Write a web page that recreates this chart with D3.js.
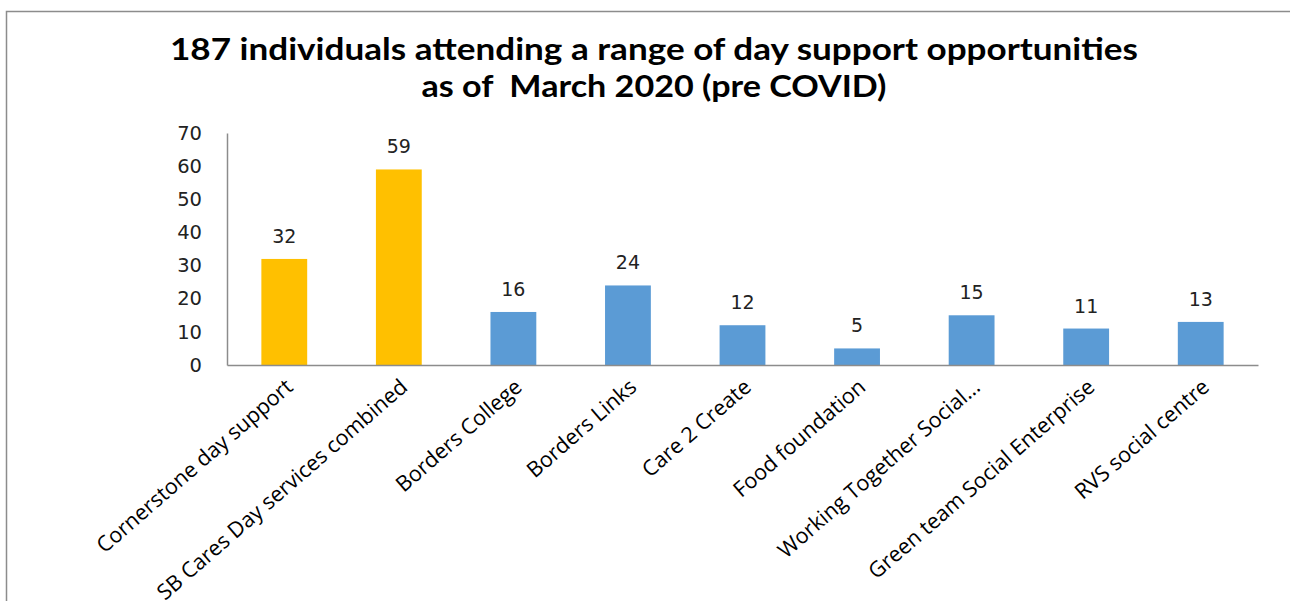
<!DOCTYPE html>
<html>
<head>
<meta charset="utf-8">
<script src="https://cdn.jsdelivr.net/npm/d3@7"></script>
<style>
  body { margin: 0; background: #fff; }
  svg { display: block; }
</style>
</head>
<body>
<div id="chart"></div>
<script>
var categories = ["Cornerstone day support", "SB Cares Day services combined", "Borders College",
  "Borders Links", "Care 2 Create", "Food foundation", "Working Together Social...",
  "Green team Social Enterprise", "RVS social centre"];
var values = [32, 59, 16, 24, 12, 5, 15, 11, 13];
var highlight = [true, true, false, false, false, false, false, false, false];
var yTicks = [0, 10, 20, 30, 40, 50, 60, 70];
var titleLines = ["187 individuals attending a range of day support opportunities", "as of  March 2020 (pre COVID)"];

var W = 1290, H = 601;
var margin = {top: 133, left: 227, right: 32, bottom: 236};

var svg = d3.select("#chart").append("svg")
    .attr("width", W)
    .attr("height", H);

// outer frame (only top and left edges show)
svg.append("path")
    .attr("d", "M6.5," + H + "V11.5H" + W)
    .attr("fill", "none")
    .attr("stroke", "#8c8c8c")
    .attr("stroke-width", 1.5);

// title
var titleWidths = [968, 465];
svg.append("g").selectAll("text")
    .data(titleLines)
    .join("text")
    .attr("x", 654)
    .attr("y", function(d, i) { return 60 + i * 37; })
    .attr("text-anchor", "middle")
    .attr("font-family", "Lato, 'Open Sans', sans-serif")
    .attr("font-weight", "bold")
    .attr("font-size", 30)
    .style("white-space", "pre")
    .attr("textLength", function(d, i) { return titleWidths[i]; })
    .attr("lengthAdjust", "spacingAndGlyphs")
    .text(function(d) { return d; });

var xScale = d3.scaleBand().domain(categories)
    .range([margin.left, W - margin.right])
    .paddingInner(0.6).paddingOuter(0.3);

var yScale = d3.scaleLinear().domain([0, 70]).range([H - margin.bottom, margin.top]);

// bars
svg.append("g").selectAll("rect")
    .data(values)
    .join("rect")
    .attr("x", function(d, i) { return xScale(categories[i]); })
    .attr("y", function(d) { return yScale(d); })
    .attr("width", xScale.bandwidth())
    .attr("height", function(d) { return yScale(0) - yScale(d); })
    .attr("fill", function(d, i) { return highlight[i] ? "#ffc000" : "#5b9bd5"; });

// data labels
svg.append("g").selectAll("text")
    .data(values)
    .join("text")
    .attr("x", function(d, i) { return xScale(categories[i]) + xScale.bandwidth() / 2; })
    .attr("y", function(d) { return yScale(d) - 16; })
    .attr("text-anchor", "middle")
    .attr("font-family", "'DejaVu Sans', sans-serif")
    .attr("font-size", 19)
    .attr("fill", "#222")
    .text(function(d) { return d; });

// y axis
var yAxis = d3.axisLeft(yScale).tickValues(yTicks).tickSize(0).tickPadding(25);
var gy = svg.append("g").attr("transform", "translate(" + margin.left + ",0)").call(yAxis);
gy.select(".domain").attr("stroke", "#8c8c8c").attr("stroke-width", 1.5);
gy.selectAll("text")
    .attr("font-family", "'DejaVu Sans', sans-serif")
    .attr("font-size", 19.5)
    .attr("fill", "#222");

// x axis
var xAxis = d3.axisBottom(xScale).tickSize(0).tickFormat("");
var gx = svg.append("g").attr("transform", "translate(0," + yScale(0) + ")").call(xAxis);
gx.select(".domain").attr("stroke", "#8c8c8c").attr("stroke-width", 1.5);

// rotated category labels
svg.append("g").selectAll("text")
    .data(categories)
    .join("text")
    .attr("transform", function(d) {
        return "translate(" + (xScale(d) + xScale.bandwidth() / 2 + 10) + "," + (yScale(0) + 24) + ") rotate(-41)";
    })
    .attr("text-anchor", "end")
    .attr("font-family", "'Open Sans', sans-serif")
    .attr("font-size", 21.5)
    .attr("fill", "#000")
    .text(function(d) { return d; });
</script>
</body>
</html>
